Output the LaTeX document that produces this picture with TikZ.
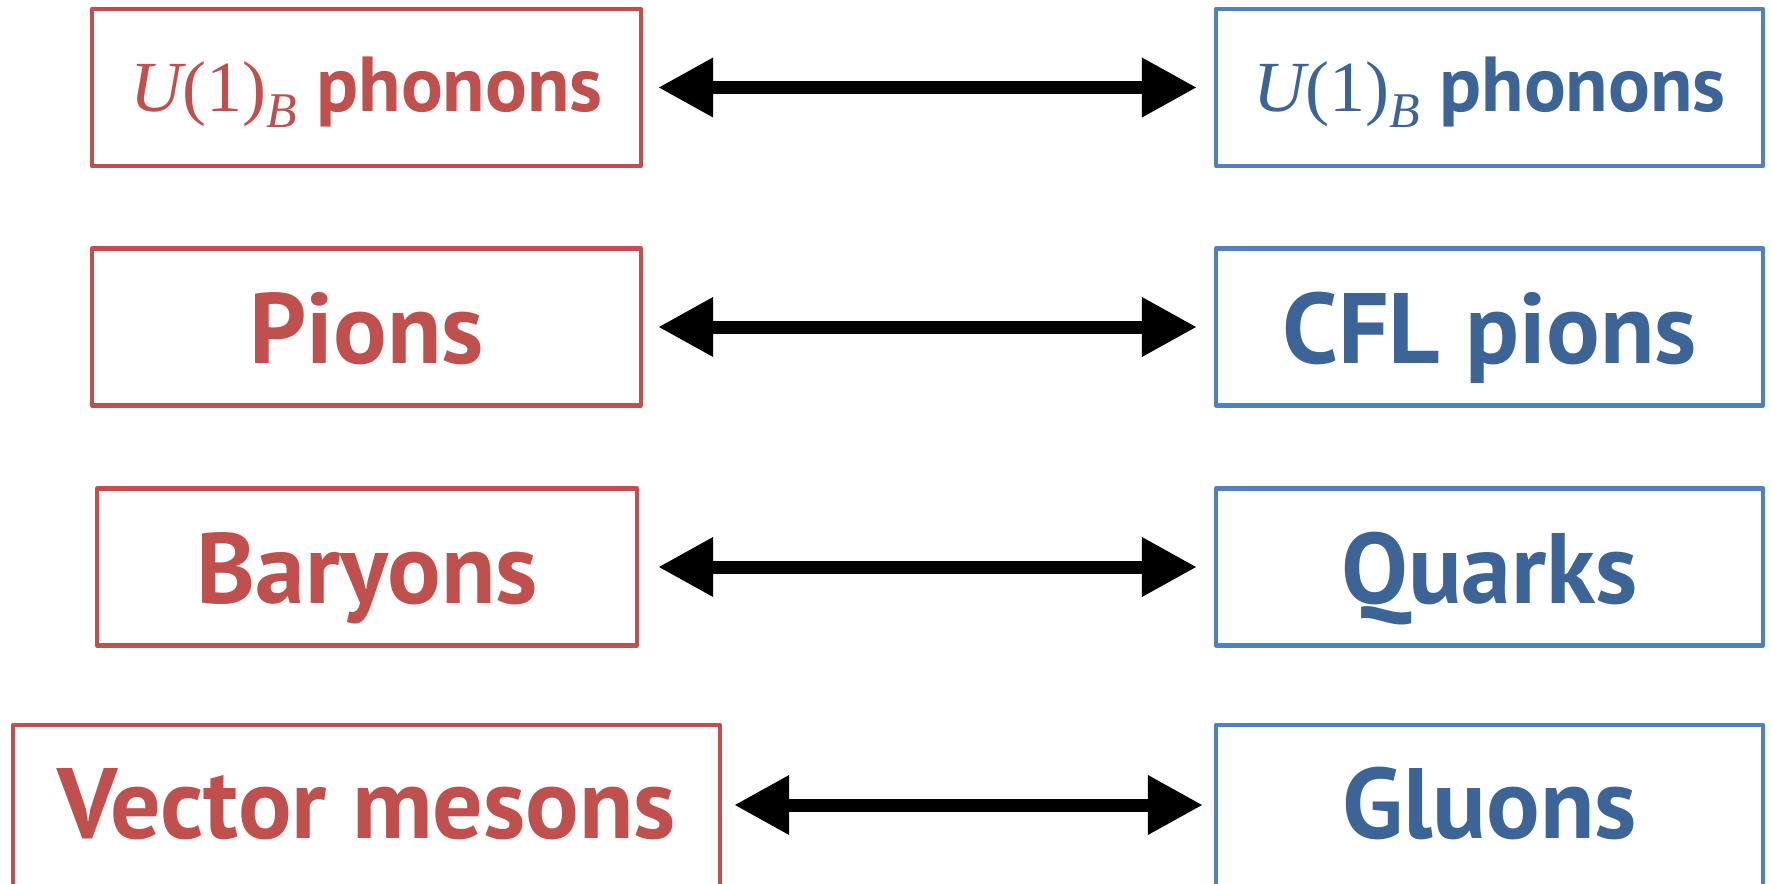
\documentclass[tikz,border=0pt]{standalone}
\usepackage{fontspec}
\setmainfont{PT Sans}
\newfontfamily\symserif{Liberation Serif}
\usetikzlibrary{arrows.meta}
\definecolor{hadronred}{HTML}{C0504D}
\definecolor{quarkblue}{HTML}{4F81BD}
\definecolor{quarktext}{HTML}{3C6496}
% U(1)_B symbol set in a serif face
\newcommand{\ubgroup}{{\symserif\mdseries\fontsize{36}{38}\selectfont\itshape U\upshape(1)}\raisebox{-8pt}{\symserif\mdseries\itshape\fontsize{25}{27}\selectfont B}}
\begin{document}
\begin{tikzpicture}[x=0.5pt,y=-0.5pt,
  box/.style={draw, line width=2.1pt, line join=round, minimum height=78.5pt,
    inner sep=0pt, font=\bfseries\fontsize{50}{52}\selectfont,
    text height=36pt, text depth=0pt},
  hadron/.style={box, draw=hadronred, text=hadronred},
  quark/.style={box, draw=quarkblue, text=quarktext},
  small/.style={font=\bfseries\fontsize{39}{42}\selectfont, text height=24.5pt},
  open/.style={minimum height=100pt, text height=13pt},
  link/.style={line width=6.5pt,
    {Triangle[length=27.5pt,width=28pt]}-{Triangle[length=27.5pt,width=28pt]}}
]
\useasboundingbox (0,0) rectangle (1771,883);
\clip (0,0) rectangle (1771,883);

% hadronic side
\node[hadron, small, minimum width=274.5pt] (h1) at (366.5,87.5) {\ubgroup{} phonons};
\node[hadron, minimum width=274.5pt] (h2) at (366.5,327) {Pions};
\node[hadron, minimum width=270pt] (h3) at (367,567) {Baryons};
\node[hadron, open, minimum width=353.5pt] (h4) at (366.5,825) {Vector mesons};

% quark side
\node[quark, small, minimum width=273.5pt] (q1) at (1489.5,87.5) {\ubgroup{} phonons};
\node[quark, minimum width=273.5pt] (q2) at (1489.5,327) {CFL pions};
\node[quark, minimum width=273.5pt] (q3) at (1489.5,567) {Quarks};
\node[quark, open, minimum width=273.5pt] (q4) at (1489.5,825) {Gluons};

% correspondences
\draw[link, shorten <=7.5pt, shorten >=8.5pt] (h1.east) -- (q1.west);
\draw[link, shorten <=7.5pt, shorten >=8.5pt] (h2.east) -- (q2.west);
\draw[link, shorten <=9.5pt, shorten >=8.5pt] (h3.east) -- (q3.west);
\draw[link, shorten <=6pt, shorten >=5.5pt] ([yshift=10pt]h4.east) -- ([yshift=10pt]q4.west);
\end{tikzpicture}
\end{document}
